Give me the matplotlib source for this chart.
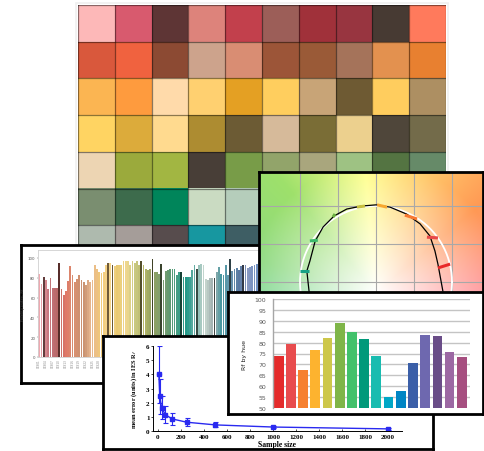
import numpy as np
import matplotlib
matplotlib.use("Agg")
import matplotlib.pyplot as plt
from matplotlib.colors import LinearSegmentedColormap, to_rgb
from matplotlib.patches import Rectangle

# -----------------------------------------------------------------------------
# Data read off the collage
# -----------------------------------------------------------------------------
# colour-sample grid (rows top->bottom, 10 columns)
grid_colors = [
    ["#FDB8B8", "#D85A6E", "#5E3535", "#DD837B", "#C2404C", "#9C5E58", "#A0313A", "#983540", "#473A33", "#FF7A5C"],
    ["#D9583C", "#F0623F", "#8C4A33", "#CDA38C", "#D98D73", "#9C5538", "#9A5A37", "#A5735A", "#E3914F", "#E88030"],
    ["#FBB552", "#FE9B3E", "#FFDAAA", "#FFD070", "#E4A023", "#FFCE5E", "#C8A477", "#6E5A33", "#FFCD5E", "#AD8F62"],
    ["#FFD462", "#DCAB3B", "#FFDA8F", "#AD8C31", "#6C5B34", "#D6BA9A", "#7A6D36", "#ECD08E", "#4F463A", "#736B4A"],
    ["#EDD5B3", "#9BAA3C", "#A2B642", "#483E37", "#789C48", "#92A46A", "#A9A67D", "#9EC283", "#547442", "#668A68"],
    ["#7A8E70", "#3D6B4C", "#00855A", "#CADBC2", "#B5CDBB", "#5E8C7C", "#2F7A72", "#8FB5AA", "#3B6E6A", "#7EA3A0"],
    ["#AEBAAE", "#A59D99", "#574C4D", "#1797A0", "#3E5E64", "#4F7FA0", "#6E8FB8", "#2E4F7A", "#8E9AC0", "#5A6A9A"],
]

# fidelity index of each colour evaluation sample
rf_samples = [84, 74, 81, 78, 69, 80, 70, 70, 70, 95,
              69, 63, 67, 77, 92, 83, 76, 79, 83, 78,
              76, 73, 78, 76, 78, 93, 89, 86, 85, 86,
              93, 95, 95, 93, 92, 93, 93, 93, 97, 97,
              97, 93, 97, 95, 97, 93, 97, 93, 89, 88,
              89, 99, 86, 86, 84, 94, 78, 87, 88, 89,
              89, 89, 83, 86, 86, 81, 81, 81, 81, 88,
              93, 89, 93, 94, 93, 79, 78, 80, 80, 80,
              86, 91, 84, 83, 93, 83, 99, 87, 89, 90,
              88, 92, 93, 93, 90, 91, 92, 93, 94]
sample_labels = ["CES%02d" % (i + 1) for i in range(len(rf_samples))]

# Rf by hue bin
hue_bins = list(range(1, 17))
rf_hue = [74.0, 79.5, 67.5, 76.8, 82.3, 89.2, 85.0, 81.8,
          74.0, 55.2, 58.0, 70.7, 83.7, 82.8, 75.8, 73.5]

# colour-vector graphic: test gamut boundary (a', b') in grid units
gamut_a = [-1.76, -1.82, -1.74, -1.60, -1.39, -1.10, -0.77, -0.37, 0.00,
           0.37, 0.80, 1.16, 1.42, 1.55, 1.63, 1.76]
gamut_b = [-0.26, 0.29, 0.55, 1.08, 1.45, 1.74, 1.92, 2.00, 2.03,
           1.97, 1.79, 1.53, 1.21, 0.82, 0.47, -0.24]
# hue-bin shift vectors (start -> end)
vec_a0 = [-2.00, -1.74, -1.13, -0.50, 0.03, 0.76, 1.34, 1.63]
vec_b0 = [0.29, 1.08, 1.71, 1.97, 2.03, 1.76, 1.18, 0.37]
vec_a1 = [-1.76, -1.53, -1.08, -0.29, 0.29, 1.08, 1.63, 1.95]
vec_b1 = [0.29, 1.10, 1.79, 2.00, 1.97, 1.66, 1.16, 0.47]

# convergence of the mean error with sample size
sample_size = [8, 16, 32, 64, 125, 250, 500, 1000, 2000]
mean_err = [4.0, 2.45, 1.65, 1.15, 0.85, 0.62, 0.43, 0.28, 0.15]
err_sd = [2.0, 1.25, 0.8, 0.6, 0.42, 0.3, 0.18, 0.08, 0.05]

# -----------------------------------------------------------------------------
# Styles
# -----------------------------------------------------------------------------
hue_colors = ["#E42B2B", "#E84C4E", "#F68030", "#FDB32F", "#CDC74A", "#7FB548",
              "#42C16B", "#01997A", "#19BCB0", "#00A7C6", "#0085C4", "#3B5FA8",
              "#6E68AF", "#6A4D88", "#9C68A3", "#A64F80"]
vec_colors = ["#17A085", "#3BB86B", "#6BB040", "#C8C040", "#F8A830",
              "#F87830", "#E84848", "#E82828"]
sample_anchor = ["#f0a8b0", "#c87880", "#b86868", "#e07868", "#d89070", "#c89070",
                 "#e8b890", "#f0c878", "#f8d890", "#e8c870", "#f0d890", "#c8c880",
                 "#b8b868", "#90a060", "#80a070", "#609870", "#40a088", "#209888",
                 "#70b0a8", "#c8d8d0", "#a0b0b0", "#4898a0", "#6898b0", "#5878a0",
                 "#8898c0", "#7090c0"]
dark_bars = [2, 9, 31, 33, 46, 51, 55, 64, 71, 79, 86, 92]

W, H = 485, 452
fig = plt.figure(figsize=(W / 100, H / 100), dpi=100)


def fbox(x0, y0, x1, y1):
    return [x0 / W, 1 - y1 / H, (x1 - x0) / W, (y1 - y0) / H]


def frame(x0, y0, x1, y1, z):
    ax = fig.add_axes(fbox(x0, y0, x1, y1))
    ax.set_zorder(z)
    ax.set_facecolor("white")
    ax.set_xticks([])
    ax.set_yticks([])
    for s in ax.spines.values():
        s.set_linewidth(2)
        s.set_color("black")
    return ax


# ---- colour grid ------------------------------------------------------------
fig.patches.append(Rectangle((76 / W, 1 - 266 / H), 372 / W, 262 / H,
                             transform=fig.transFigure, fill=False,
                             edgecolor="#f0f0f0", lw=1.2, zorder=0))
axg = fig.add_axes(fbox(78, 6, 446, 263))
axg.set_zorder(1)
nr, nc = len(grid_colors), len(grid_colors[0])
img = np.array([[to_rgb(c) for c in row] for row in grid_colors])
axg.imshow(img, extent=(0, nc, nr, 0), aspect="auto", interpolation="nearest")
for i in range(nc + 1):
    axg.axvline(i, color=(0, 0, 0, 0.45), lw=0.9)
for j in range(nr + 1):
    axg.axhline(j, color=(0, 0, 0, 0.45), lw=0.9)
axg.set_xlim(0, nc)
axg.set_ylim(nr, 0)
axg.axis("off")

# ---- sample fidelity bar chart ------------------------------------------------
frame(21, 246, 266, 384, 2)
axb = fig.add_axes(fbox(38, 251, 258, 358))
axb.set_zorder(2.5)
cmap = LinearSegmentedColormap.from_list("ces", sample_anchor)
n = len(rf_samples)
cols = [cmap(i / (n - 1)) for i in range(n)]
for i in dark_bars:
    r, g, b, _ = cols[i]
    cols[i] = (r * 0.45, g * 0.42, b * 0.4, 1)
axb.bar(range(n), rf_samples, width=0.8, color=cols)
axb.set_xlim(-0.6, n - 0.4)
axb.set_ylim(0, 108)
axb.set_yticks([0, 20, 40, 60, 80, 100])
axb.tick_params(axis="y", labelsize=2.8, length=1, width=0.3, pad=1,
                colors="#555555")
# only the labels left of the overlapping line-chart panel are visible
shown = list(range(0, 29, 3))
axb.set_xticks(shown)
axb.set_xticklabels([sample_labels[i] for i in shown], rotation=90,
                    fontsize=2.0, color="#888888")
axb.tick_params(axis="x", length=0, pad=1)
for s in axb.spines.values():
    s.set_color("#d0d0d0")
    s.set_linewidth(0.6)
axb.set_ylabel("Fidelity index, Rf", fontsize=2.8, color="#444444", labelpad=2)

# ---- colour vector graphic -----------------------------------------------------
axc = frame(259, 173, 483, 345, 3)
cx0, cx1 = (259 - 376) / 38, (483 - 376) / 38
cy0, cy1 = (283 - 345) / 38, (283 - 173) / 38
gx, gy = np.meshgrid(np.linspace(cx0, cx1, 300), np.linspace(cy0, cy1, 240))
ang = np.degrees(np.arctan2(gy + 0.3, gx)) % 360
rad = np.hypot(gx, gy + 0.3)
hang = [0, 40, 75, 95, 130, 165, 200, 250, 290, 330, 360]
hrgb = [(1.0, 0.55, 0.58), (1.0, 0.6, 0.33), (1.0, 0.85, 0.45), (1.0, 1.0, 0.55),
        (0.62, 0.88, 0.42), (0.55, 0.85, 0.5), (0.5, 0.85, 0.72), (0.6, 0.8, 0.95),
        (0.8, 0.7, 0.95), (1.0, 0.6, 0.8), (1.0, 0.55, 0.58)]
hrgb = np.array(hrgb)
sat = np.clip(rad / 3.4, 0, 1)[..., None]
hue = np.stack([np.interp(ang, hang, hrgb[:, k]) for k in range(3)], axis=-1)
bg = 1 - sat * (1 - hue)
axc.imshow(bg, origin="lower", extent=(cx0, cx1, cy0, cy1), aspect="auto")
for v in [-2, -1, 0, 1, 2]:
    axc.axvline(v, color="#a8a8a8", lw=0.8)
for v in [-1, 0, 1, 2]:
    axc.axhline(v, color="#a8a8a8", lw=0.8)
t = np.linspace(0, 2 * np.pi, 200)
axc.plot(2 * np.cos(t), 2 * np.sin(t), color="white", lw=1.3)
axc.plot(gamut_a, gamut_b, color="black", lw=0.9)
for a0, b0, a1, b1, c in zip(vec_a0, vec_b0, vec_a1, vec_b1, vec_colors):
    axc.plot([a0, a1], [b0, b1], color=c, lw=2.2, solid_capstyle="butt")
axc.set_xlim(cx0, cx1)
axc.set_ylim(cy0, cy1)

# ---- convergence line chart ------------------------------------------------------
frame(103, 337, 433, 450, 4)
axl = fig.add_axes(fbox(153, 347, 402, 432))
axl.set_zorder(4.5)
blue = "#2a2af0"
axl.errorbar(sample_size, mean_err, yerr=err_sd, fmt="-s", color=blue, ms=2.2,
             lw=1.0, elinewidth=0.8, capsize=1.8, capthick=0.8)
axl.plot(sample_size[:1], mean_err[:1], "o", color=blue, mfc="white", ms=3,
         mew=0.8)
axl.set_xlim(-43, 2122)
axl.set_ylim(0, 6)
axl.set_xticks(range(0, 2001, 200))
axl.set_yticks(range(0, 7))
axl.spines["top"].set_visible(False)
axl.spines["right"].set_visible(False)
for s in ("left", "bottom"):
    axl.spines[s].set_linewidth(0.7)
serif = {"family": "Liberation Serif", "weight": "bold"}
axl.tick_params(axis="x", direction="in", length=1.5, width=0.5, pad=2)
axl.tick_params(axis="y", direction="out", length=1.5, width=0.5, pad=1)
for lab in axl.get_xticklabels() + axl.get_yticklabels():
    lab.set_fontproperties(serif)
    lab.set_fontsize(5)
axl.set_xlabel("Sample size", fontdict=serif, fontsize=5.5, labelpad=1)
axl.set_ylabel("mean error (units) in IES R$_f$", fontdict=serif, fontsize=4.6,
               labelpad=5)

# ---- Rf by hue bar chart -----------------------------------------------------------
frame(228, 293, 483, 415, 5)
axh = fig.add_axes(fbox(273, 300, 470, 409))
axh.set_zorder(5.5)
axh.set_facecolor("none")
for v in range(55, 101, 5):
    axh.axhline(v, color="#c4c4c4", lw=1.0, zorder=0)
axh.bar(range(len(hue_bins)), rf_hue, width=0.8, color=hue_colors, zorder=2,
        bottom=0)
axh.set_xlim(-0.47, 15.67)
axh.set_ylim(50, 100)
axh.set_yticks(range(50, 101, 5))
axh.set_xticks([])
axh.tick_params(axis="y", length=0, labelsize=4.5, labelcolor="#595959", pad=5)
for s in ("top", "right", "bottom"):
    axh.spines[s].set_visible(False)
axh.spines["left"].set_color("#a6a6a6")
axh.spines["left"].set_linewidth(1.0)
axh.set_ylabel("Rf by hue", fontsize=4.5, color="#222222", labelpad=5)

fig.savefig("out.png", dpi=100)
